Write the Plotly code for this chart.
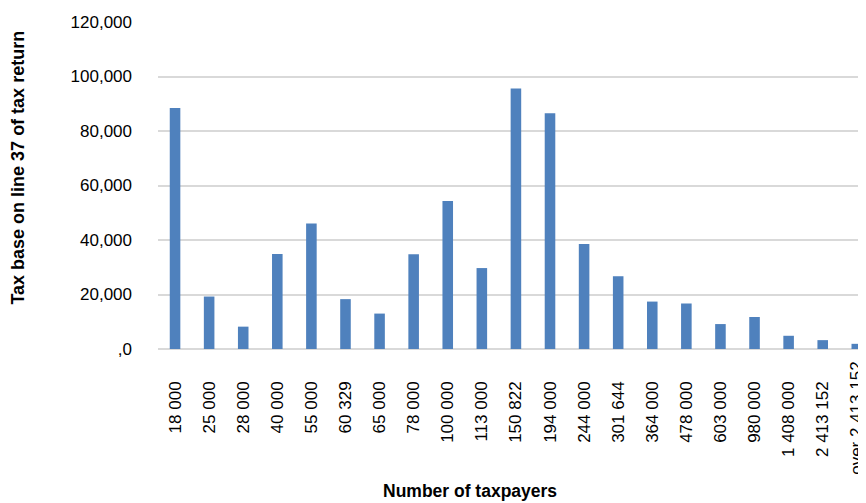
import plotly.graph_objects as go

categories = ["18 000", "25 000", "28 000", "40 000", "55 000", "60 329", "65 000",
              "78 000", "100 000", "113 000", "150 822", "194 000", "244 000",
              "301 644", "364 000", "478 000", "603 000", "980 000", "1 408 000",
              "2 413 152", "over 2 413 152"]
values = [88400, 19250, 8200, 34900, 46100, 18300, 13000,
          34800, 54300, 29700, 95600, 86500, 38500,
          26700, 17400, 16700, 9150, 11750, 4850,
          3250, 1900]
y_tickvals = [0, 20000, 40000, 60000, 80000, 100000, 120000]
y_ticktext = [",0", "20,000", "40,000", "60,000", "80,000", "100,000", "120,000"]

x_title = "Number of taxpayers"
y_title = "Tax base on line 37 of tax return"

idx = list(range(len(categories)))
# the long last label sits closer to the axis (as in the reference), on an overlay axis
main_text = categories[:-1] + [""]

fig = go.Figure()
fig.add_trace(go.Bar(x=idx, y=values,
                     marker=dict(color="#4F81BD", line=dict(width=0)),
                     cliponaxis=False))
fig.add_trace(go.Scatter(x=[], y=[], xaxis="x2", hoverinfo="skip", showlegend=False))

tick_font = dict(family="Liberation Sans", size=17, color="black")
x_range = [-0.5, 20.27]

# the page body adds an 8px offset, so the figure is 8px smaller than the window
fig.update_layout(
    width=858, height=495,
    margin=dict(l=149.6, r=0, t=14, b=154.3, autoexpand=False),
    paper_bgcolor="white", plot_bgcolor="white",
    bargap=0.69,
    showlegend=False,
    xaxis=dict(
        tickmode="array", tickvals=idx, ticktext=main_text,
        range=x_range, tickangle=-90, ticks="", showgrid=False,
        showline=False, zeroline=False, automargin=False,
        ticklabeloverflow="allow", tickfont=tick_font, ticklabelstandoff=28,
    ),
    xaxis2=dict(
        overlaying="x", anchor="y", side="bottom",
        tickmode="array", tickvals=[idx[-1]], ticktext=[categories[-1]],
        range=x_range, tickangle=-90, ticks="", showgrid=False,
        showline=False, zeroline=False, automargin=False,
        ticklabeloverflow="allow", tickfont=tick_font, ticklabelstandoff=8,
    ),
    yaxis=dict(
        range=[0, 120000], tickmode="array", tickvals=y_tickvals, ticktext=y_ticktext,
        showgrid=True, gridcolor="#D9D9D9", gridwidth=1.5, zeroline=True,
        zerolinecolor="#D9D9D9", zerolinewidth=1.5, ticks="", showline=False,
        automargin=False, tickfont=tick_font, ticklabelstandoff=25,
    ),
    annotations=[
        dict(text="<b>" + y_title + "</b>", xref="paper", yref="paper",
             x=-0.1978, y=0.5546, textangle=-90, showarrow=False,
             xanchor="center", yanchor="middle",
             font=dict(family="Liberation Sans", size=18, color="black")),
        dict(text="<b>" + x_title + "</b>", xref="paper", yref="paper",
             x=0.441, y=-0.4356, showarrow=False,
             xanchor="center", yanchor="middle",
             font=dict(family="Liberation Sans", size=17.5, color="black")),
    ],
)

fig.write_html("out.html")
